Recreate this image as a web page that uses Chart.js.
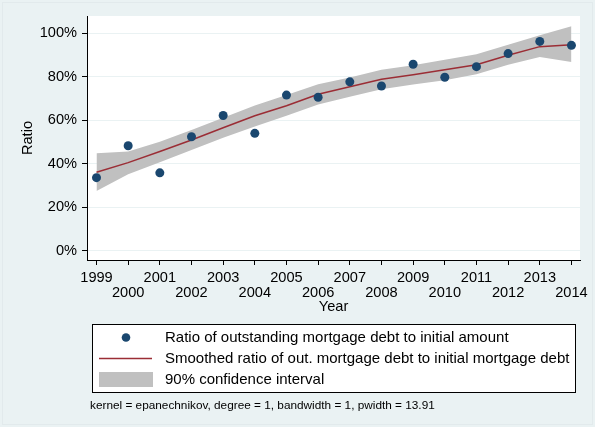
<!DOCTYPE html>
<html>
<head>
<meta charset="utf-8">
<script src="https://cdn.jsdelivr.net/npm/chart.js@4/dist/chart.umd.min.js"></script>
<style>
  html, body { margin: 0; padding: 0; background: #eaf2f3; }
  #wrap { width: 595px; height: 427px; position: relative; }
</style>
</head>
<body>
<div id="wrap"><canvas id="c" width="595" height="427"></canvas></div>
<script>
const years = [1999, 2000, 2001, 2002, 2003, 2004, 2005, 2006, 2007, 2008, 2009, 2010, 2011, 2012, 2013, 2014];
const ratio = [33.6, 48.3, 35.8, 52.4, 62.2, 54.0, 71.6, 70.6, 77.7, 75.8, 85.8, 79.8, 84.7, 90.7, 96.3, 94.5];
const smoothed = [36.1, 40.5, 45.6, 50.9, 56.6, 62.1, 66.7, 72.0, 75.4, 78.9, 81.0, 83.3, 85.6, 89.9, 93.9, 94.8];
const ciUpper = [44.8, 45.6, 50.1, 55.5, 61.2, 66.8, 71.6, 76.6, 79.7, 83.3, 85.3, 87.9, 90.4, 94.8, 99.1, 103.3];
const ciLower = [27.5, 35.2, 40.7, 46.3, 52.0, 57.1, 62.1, 67.3, 70.8, 74.3, 76.5, 78.4, 81.2, 85.6, 89.1, 86.8];
const yTicks = [0, 20, 40, 60, 80, 100];
const seriesLabels = [
  'Ratio of outstanding mortgage debt to initial amount',
  'Smoothed ratio of out. mortgage debt to initial mortgage debt',
  '90% confidence interval'
];
const noteText = 'kernel = epanechnikov, degree = 1, bandwidth = 1, pwidth = 13.91';

const BG = '#eaf2f3';
const NAVY = '#1a476f';
const MAROON = '#9b2d35';
const GRAY = '#c0c0c0';
const FONT = 'Arial, "Liberation Sans", Helvetica, sans-serif';

const pts = arr => years.map((y, i) => ({ x: y, y: arr[i] }));

const bgPlugin = {
  id: 'bg',
  beforeDraw(chart) {
    const { ctx, chartArea: a } = chart;
    ctx.save();
    ctx.fillStyle = BG;
    ctx.fillRect(0, 0, chart.width, chart.height);
    ctx.strokeStyle = '#e2eaec';
    ctx.lineWidth = 1;
    ctx.strokeRect(2.5, 2.5, chart.width - 5, chart.height - 5);
    ctx.fillStyle = '#ffffff';
    ctx.fillRect(a.left, a.top, a.right - a.left, a.bottom - a.top);
    ctx.restore();
  }
};

const legendPlugin = {
  id: 'customLegend',
  afterDraw(chart) {
    const { ctx } = chart;
    ctx.save();
    const bx = 92.5, by = 324.5, bw = 483, bh = 68;
    ctx.fillStyle = '#ffffff';
    ctx.fillRect(bx, by, bw, bh);
    ctx.strokeStyle = '#000000';
    ctx.lineWidth = 1;
    ctx.strokeRect(bx, by, bw, bh);
    const rows = [337.5, 358.5, 379.5];
    ctx.fillStyle = NAVY;
    ctx.beginPath();
    ctx.arc(126, rows[0], 4.3, 0, Math.PI * 2);
    ctx.fill();
    ctx.strokeStyle = MAROON;
    ctx.lineWidth = 1.5;
    ctx.beginPath();
    ctx.moveTo(99, rows[1]);
    ctx.lineTo(152, rows[1]);
    ctx.stroke();
    ctx.fillStyle = GRAY;
    ctx.fillRect(99, 372, 54, 15);
    ctx.fillStyle = '#000000';
    ctx.font = '15px ' + FONT;
    ctx.textBaseline = 'middle';
    ctx.textAlign = 'left';
    seriesLabels.forEach((t, i) => ctx.fillText(t, 165, rows[i]));
    ctx.font = '11.8px ' + FONT;
    ctx.fillText(noteText, 90, 406);
    ctx.restore();
  }
};

new Chart(document.getElementById('c'), {
  type: 'scatter',
  data: {
    datasets: [
      {
        label: seriesLabels[0],
        data: pts(ratio),
        type: 'scatter',
        backgroundColor: NAVY,
        borderWidth: 0,
        pointRadius: 4.5,
        pointHoverRadius: 4.5,
        order: 0
      },
      {
        label: seriesLabels[1],
        data: pts(smoothed),
        type: 'line',
        borderColor: MAROON,
        borderWidth: 1.5,
        pointRadius: 0,
        fill: false,
        tension: 0,
        order: 1
      },
      {
        label: seriesLabels[2],
        data: pts(ciUpper),
        type: 'line',
        borderWidth: 0,
        borderColor: 'rgba(0,0,0,0)',
        backgroundColor: GRAY,
        pointRadius: 0,
        fill: '+1',
        tension: 0,
        order: 2
      },
      {
        label: 'ci lower',
        data: pts(ciLower),
        type: 'line',
        borderWidth: 0,
        borderColor: 'rgba(0,0,0,0)',
        pointRadius: 0,
        fill: false,
        tension: 0,
        order: 3
      }
    ]
  },
  options: {
    responsive: false,
    animation: false,
    devicePixelRatio: 1,
    layout: { padding: { left: 0, top: 16, right: 15, bottom: 111 } },
    plugins: {
      legend: { display: false },
      tooltip: { enabled: false }
    },
    scales: {
      x: {
        type: 'linear',
        min: 1998.7,
        max: 2014.27,
        afterBuildTicks(scale) { scale.ticks = years.map(v => ({ value: v })); },
        afterFit(scale) { scale.height = 56; },
        border: { display: true, color: '#000000', width: 1 },
        grid: { drawOnChartArea: false, color: '#000000', tickLength: 5, tickColor: '#000000' },
        ticks: {
          autoSkip: false,
          maxRotation: 0,
          padding: 5.5,
          color: '#000000',
          font: { family: FONT, size: 14.6, lineHeight: 15 / 14.6 },
          callback(v) {
            const s = String(v);
            return ((v - years[0]) % 2 === 0) ? [s, ''] : ['', s];
          }
        },
        title: {
          display: true,
          text: 'Year',
          color: '#000000',
          padding: 0,
          font: { family: FONT, size: 14.6 }
        }
      },
      y: {
        min: -4.3,
        max: 108,
        afterBuildTicks(scale) { scale.ticks = yTicks.map(v => ({ value: v })); },
        afterFit(scale) { scale.width = 87; },
        border: { display: true, color: '#000000', width: 1 },
        grid: { drawOnChartArea: true, color: BG, lineWidth: 1, tickLength: 5, tickColor: '#000000' },
        ticks: {
          padding: 5,
          color: '#000000',
          font: { family: FONT, size: 14.6 },
          callback(v) { return v + '%'; }
        },
        title: {
          display: true,
          text: 'Ratio',
          color: '#000000',
          padding: { top: 19.5, bottom: 0 },
          font: { family: FONT, size: 14.6 }
        }
      }
    }
  },
  plugins: [bgPlugin, legendPlugin]
});
</script>
</body>
</html>
